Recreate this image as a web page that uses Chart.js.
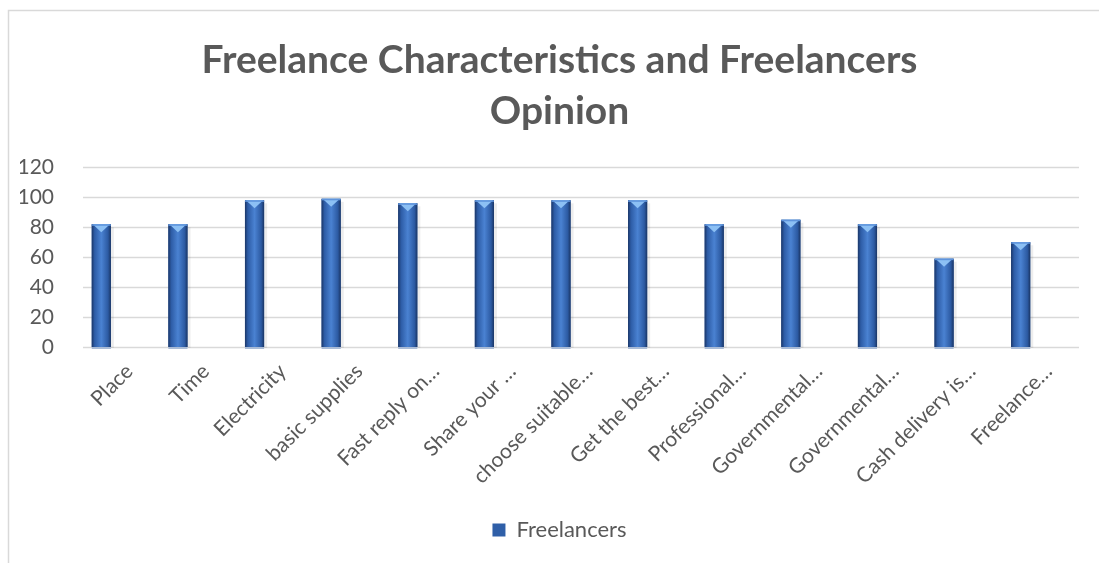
<!DOCTYPE html>
<html>
<head>
<meta charset="utf-8">
<script src="https://cdn.jsdelivr.net/npm/chart.js@4"></script>
<style>
  html, body { margin: 0; padding: 0; background: #ffffff; }
  #wrap { width: 1099px; height: 563px; position: relative; }
</style>
</head>
<body>
<div id="wrap"><canvas id="c" width="1099" height="563"></canvas></div>
<script>
const categories = [
  "Place", "Time", "Electricity", "basic supplies", "Fast reply on…", "Share your …",
  "choose suitable…", "Get the best…", "Professional…", "Governmental…",
  "Governmental…", "Cash delivery is…", "Freelance…"
];
const freelancers = [82, 82, 98, 99, 96, 98, 98, 98, 82, 85, 82, 59, 70];
const yTickValues = [0, 20, 40, 60, 80, 100, 120];
const titleLines = ["Freelance Characteristics and Freelancers", "Opinion"];
const seriesName = "Freelancers";

const TEXT = "#595959";
const GRID = "#d9d9d9";

const framePlugin = {
  id: "frame",
  beforeDraw(chart) {
    const ctx = chart.ctx;
    ctx.save();
    ctx.fillStyle = "#ffffff";
    ctx.fillRect(0, 0, chart.width, chart.height);
    ctx.strokeStyle = GRID;
    ctx.lineWidth = 1.5;
    ctx.beginPath();
    ctx.moveTo(8.5, chart.height);
    ctx.lineTo(8.5, 10.5);
    ctx.lineTo(chart.width, 10.5);
    ctx.stroke();
    ctx.restore();
  }
};

const gridPlugin = {
  id: "excelGrid",
  beforeDatasetsDraw(chart) {
    const ctx = chart.ctx;
    const y = chart.scales.y;
    const area = chart.chartArea;
    ctx.save();
    ctx.strokeStyle = GRID;
    ctx.lineWidth = 1.5;
    yTickValues.forEach(v => {
      const py = Math.round(y.getPixelForValue(v)) + 0.5;
      ctx.beginPath();
      ctx.moveTo(area.left + 20, py);
      ctx.lineTo(area.right + 20, py);
      ctx.stroke();
    });
    ctx.restore();
  }
};

const barStylePlugin = {
  id: "barStyle",
  afterDatasetsDraw(chart) {
    const ctx = chart.ctx;
    const meta = chart.getDatasetMeta(0);
    ctx.save();
    meta.data.forEach(bar => {
      const p = bar.getProps(["x", "y", "base", "width"], true);
      const l = p.x - p.width / 2, r = p.x + p.width / 2;
      const top = p.y, base = p.base;
      ctx.fillStyle = "rgba(0,0,0,0.07)";
      ctx.fillRect(r, top + 3, 3, base - top - 2);
      ctx.fillStyle = "#a9bbd6";
      ctx.fillRect(l, base, p.width, 2);
      const g = ctx.createLinearGradient(l, 0, r, 0);
      g.addColorStop(0, "#1b3667");
      g.addColorStop(0.15, "#2d5ca6");
      g.addColorStop(0.5, "#4a82d2");
      g.addColorStop(0.85, "#2c5aa2");
      g.addColorStop(1, "#1a3564");
      ctx.fillStyle = g;
      ctx.fillRect(l, top, p.width, base - top);
      ctx.fillStyle = "#8cc0f4";
      ctx.beginPath();
      ctx.moveTo(l + 1, top);
      ctx.lineTo(r - 1, top);
      ctx.lineTo(p.x, top + 8);
      ctx.closePath();
      ctx.fill();
      ctx.fillStyle = "#5f94dc";
      ctx.fillRect(l, top, p.width, 1.5);
    });
    ctx.restore();
  }
};

Chart.defaults.font.family = "Lato, 'Open Sans', sans-serif";
Chart.defaults.color = TEXT;

new Chart(document.getElementById("c"), {
  type: "bar",
  data: {
    labels: categories,
    datasets: [{
      label: seriesName,
      data: freelancers,
      backgroundColor: "#2f5fa8",
      borderColor: "#1b3667",
      borderWidth: 0,
      categoryPercentage: 1.0,
      barPercentage: 0.25
    }]
  },
  options: {
    responsive: false,
    animation: false,
    devicePixelRatio: 1,
    layout: { padding: { left: 20, right: 0, top: 0, bottom: 12 } },
    scales: {
      x: {
        grid: { display: false },
        border: { display: false },
        ticks: {
          color: TEXT,
          font: { size: 21 },
          minRotation: 45,
          maxRotation: 45,
          autoSkip: false,
          padding: 4,
          labelOffset: 28
        },
        afterFit(scale) { scale.height = 162; }
      },
      y: {
        min: 0,
        max: 120,
        grid: { display: false },
        border: { display: false },
        afterBuildTicks(scale) { scale.ticks = yTickValues.map(v => ({ value: v })); },
        ticks: { color: TEXT, font: { size: 21 }, padding: 1 },
        afterFit(scale) { scale.width = 43; }
      },
      yRight: {
        position: "right",
        display: true,
        grid: { display: false },
        border: { display: false },
        ticks: { display: false },
        afterFit(scale) { scale.width = 40; }
      }
    },
    plugins: {
      title: {
        display: true,
        text: titleLines,
        color: TEXT,
        font: { size: 39, weight: "bold", lineHeight: 1.3 },
        padding: { top: 35, bottom: 31 }
      },
      legend: {
        position: "bottom",
        labels: {
          color: TEXT,
          font: { size: 22 },
          boxWidth: 13,
          boxHeight: 13,
          padding: 10
        }
      },
      tooltip: { enabled: false }
    }
  },
  plugins: [framePlugin, gridPlugin, barStylePlugin]
});
</script>
</body>
</html>
